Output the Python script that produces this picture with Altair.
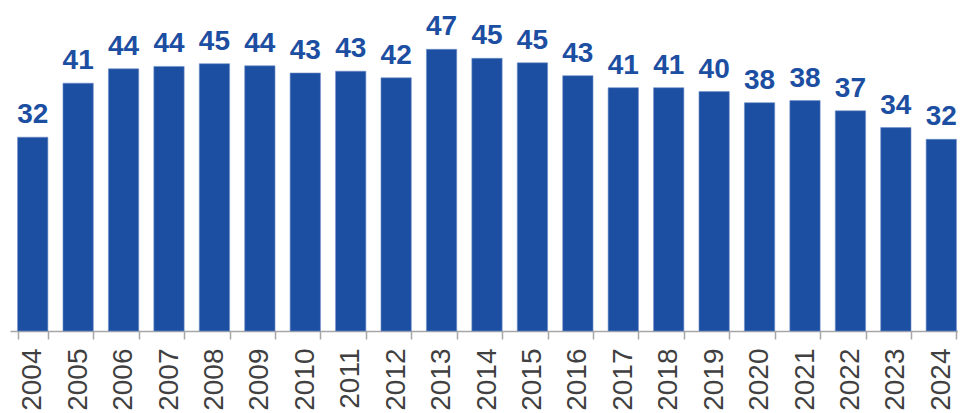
import altair as alt
import pandas as pd

years = [str(y) for y in range(2004, 2025)]
values = [32.3, 41.3, 43.7, 44.1, 44.55, 44.2, 43.0, 43.3, 42.2, 46.95, 45.45,
          44.7, 42.55, 40.55, 40.55, 39.9, 38.05, 38.4, 36.7, 33.9, 31.95]
labels = [32, 41, 44, 44, 45, 44, 43, 43, 42, 47, 45, 45, 43, 41, 41, 40, 38, 38, 37, 34, 32]

df = pd.DataFrame({"year": years, "value": values, "label": labels})

BLUE = "#1C4EA2"

base = alt.Chart(df).encode(
    x=alt.X("year:N", sort=years,
            scale=alt.Scale(paddingInner=0.333, paddingOuter=0.1665, range=[0, 954]),
            axis=alt.Axis(title=None, labelAngle=-90, labelFont="Liberation Sans",
                          labelFontSize=28, labelColor="#404040", labelPadding=9,
                          tickBand="extent", tickSize=8, tickColor="#A6A6A6",
                          domainColor="#A6A6A6", domainWidth=1.5, tickWidth=1.5,
                          labelBaseline="middle")),
    y=alt.Y("value:Q", scale=alt.Scale(domain=[0, 50], nice=False, zero=True),
            axis=None),
)

bars = base.mark_bar(color=BLUE, stroke="#6F8FC8", strokeWidth=0.6)
text = base.mark_text(font="Liberation Sans", fontSize=28, fontWeight="bold",
                      color=BLUE, baseline="alphabetic", dy=-14).encode(
    text=alt.Text("label:Q"))

chart = (bars + text).properties(
    width=948, height=300,
    autosize=alt.AutoSizeParams(type="none"),
    padding={"left": 2, "top": 23, "right": 0, "bottom": 82},
).configure_view(stroke=None)

chart.save("out.html", embed_options={"renderer": "svg", "actions": False})
